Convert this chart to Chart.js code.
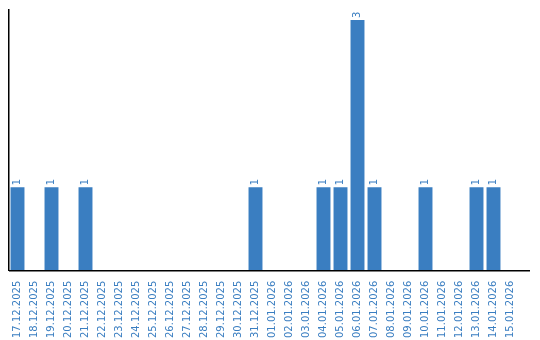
<!DOCTYPE html>
<html lang="de">
<head>
    <meta charset="UTF-8">
    <title>Tageswerte</title>
    <script src="https://cdn.jsdelivr.net/npm/chart.js"></script>
    <style>
        html, body { margin: 0; padding: 0; background: #fff; }
        #wrap { width: 540px; height: 340px; }
    </style>
</head>
<body>
    <div id="wrap"><canvas id="dayChart" width="540" height="340"></canvas></div>

    <script>
        // Daten
        const dates = [
            '17.12.2025', '18.12.2025', '19.12.2025', '20.12.2025', '21.12.2025',
            '22.12.2025', '23.12.2025', '24.12.2025', '25.12.2025', '26.12.2025',
            '27.12.2025', '28.12.2025', '29.12.2025', '30.12.2025', '31.12.2025',
            '01.01.2026', '02.01.2026', '03.01.2026', '04.01.2026', '05.01.2026',
            '06.01.2026', '07.01.2026', '08.01.2026', '09.01.2026', '10.01.2026',
            '11.01.2026', '12.01.2026', '13.01.2026', '14.01.2026', '15.01.2026'
        ];
        const counts = [
            1, 0, 1, 0, 1,
            0, 0, 0, 0, 0,
            0, 0, 0, 0, 1,
            0, 0, 0, 1, 1,
            3, 1, 0, 0, 1,
            0, 0, 1, 1, 0
        ];
        const yMax = 3.12;

        const blue = '#3a7ec1';
        const fontFamily = '"DejaVu Sans", Verdana, sans-serif';

        // Werte senkrecht über die Balken schreiben
        const valueLabels = {
            id: 'valueLabels',
            afterDatasetsDraw(chart) {
                const ctx = chart.ctx;
                const meta = chart.getDatasetMeta(0);
                ctx.save();
                ctx.font = '10px ' + fontFamily;
                ctx.fillStyle = blue;
                ctx.textAlign = 'left';
                ctx.textBaseline = 'middle';
                meta.data.forEach((bar, i) => {
                    if (!counts[i]) return;
                    ctx.save();
                    ctx.translate(bar.x, bar.y - 2);
                    ctx.rotate(-Math.PI / 2);
                    ctx.fillText(String(counts[i]), 0, 0);
                    ctx.restore();
                });
                ctx.restore();
            }
        };

        // x-Achsenlinie etwas über den Plotbereich hinaus
        const baseLine = {
            id: 'baseLine',
            afterDraw(chart) {
                const { ctx, chartArea } = chart;
                ctx.save();
                ctx.strokeStyle = '#000';
                ctx.lineWidth = 1.5;
                ctx.beginPath();
                ctx.moveTo(chartArea.left, chartArea.bottom);
                ctx.lineTo(530, chartArea.bottom);
                ctx.stroke();
                ctx.restore();
            }
        };

        new Chart(document.getElementById('dayChart').getContext('2d'), {
            type: 'bar',
            data: {
                labels: dates,
                datasets: [{
                    data: counts,
                    backgroundColor: blue,
                    categoryPercentage: 1,
                    barPercentage: 0.82
                }]
            },
            options: {
                responsive: false,
                animation: false,
                layout: { padding: { top: 10, left: 1, right: 21, bottom: 0 } },
                plugins: {
                    legend: { display: false },
                    tooltip: { enabled: false }
                },
                scales: {
                    x: {
                        grid: { display: false },
                        border: { display: false },
                        ticks: {
                            color: blue,
                            font: { family: fontFamily, size: 10 },
                            minRotation: 90,
                            maxRotation: 90,
                            autoSkip: false,
                            padding: 2
                        }
                    },
                    y: {
                        min: 0,
                        max: yMax,
                        grid: { display: false },
                        border: { display: true, color: '#000', width: 1.5 },
                        ticks: { display: false }
                    }
                }
            },
            plugins: [valueLabels, baseLine]
        });
    </script>
</body>
</html>
